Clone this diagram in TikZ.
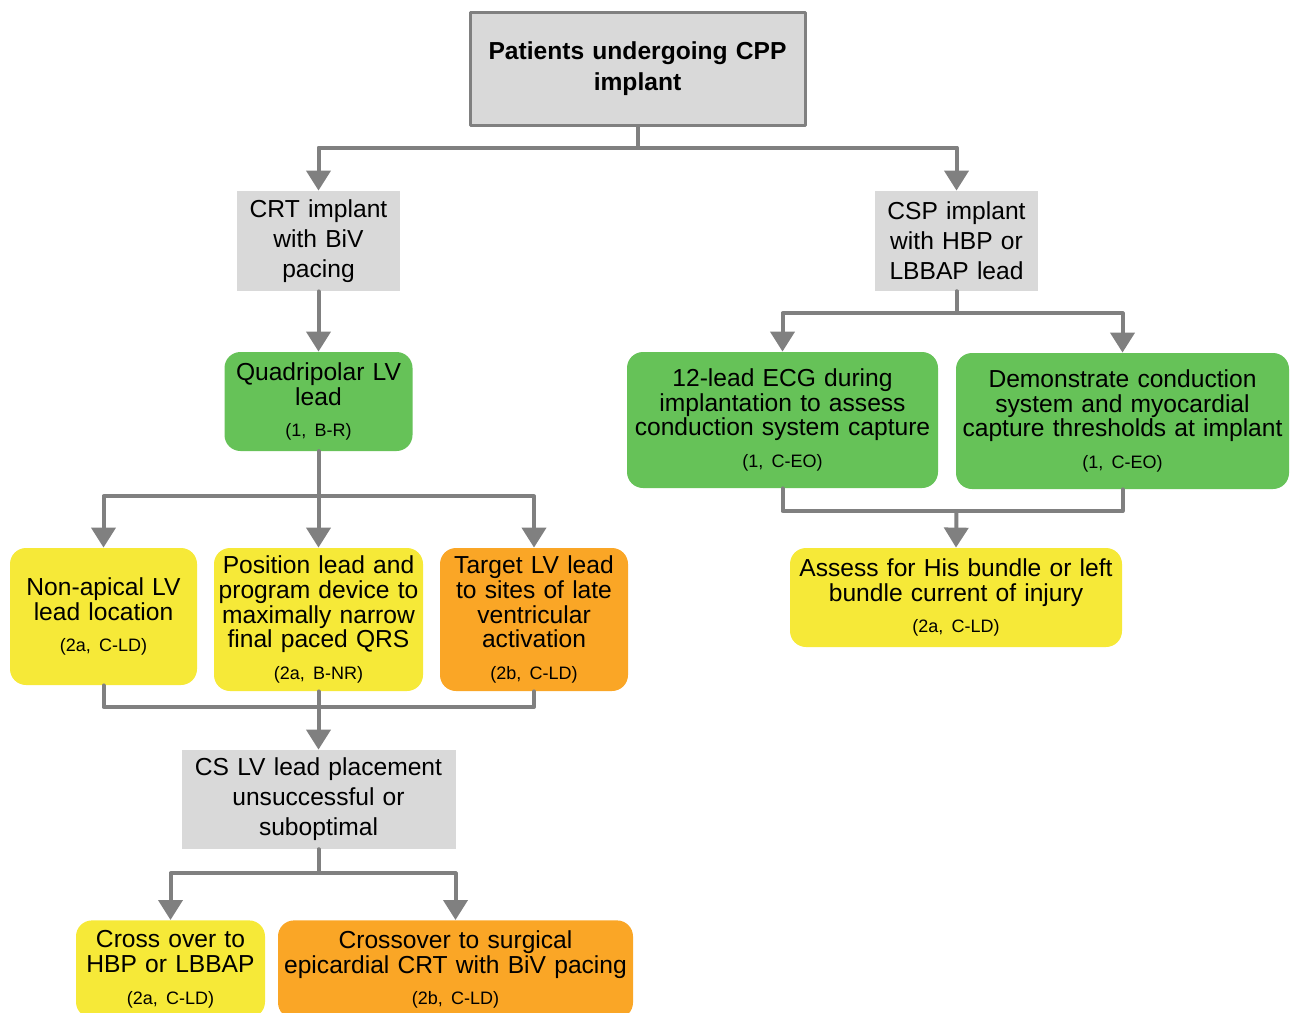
\documentclass[tikz,border=0pt]{standalone}
\usepackage{fontspec}
\setmainfont{Liberation Sans}
\usetikzlibrary{arrows.meta}
\definecolor{boxgray}{RGB}{217,217,217}
\definecolor{linegray}{RGB}{128,128,128}
\definecolor{corgreen}{RGB}{102,194,88}
\definecolor{coryellow}{RGB}{246,233,56}
\definecolor{cororange}{RGB}{250,166,38}
\newcommand{\recclass}[1]{\\[3.5pt]{\fontsize{9}{10}\selectfont #1}}

\begin{document}
\begin{tikzpicture}[line cap=round,line join=round,>={Triangle[width=12pt,length=10pt]},x=0.5pt,y=-0.5pt]
\useasboundingbox (0,0) rectangle (1293,1012);
\clip (0,0) rectangle (1293,1012);
\tikzstyle{box}=[inner sep=0pt, align=center, font=\fontsize{12.3}{12.4}\selectfont]
\tikzstyle{graybox}=[box, fill=boxgray, font=\fontsize{12.3}{15}\selectfont]
\tikzstyle{greenbox}=[box, fill=corgreen, rounded corners=8pt]
\tikzstyle{yellowbox}=[box, fill=coryellow, rounded corners=8pt]
\tikzstyle{orangebox}=[box, fill=cororange, rounded corners=8pt]
\tikzstyle{conn}=[line width=2pt, color=linegray]

% top
\node[graybox, draw=linegray, line width=1.5pt, minimum width=167.5pt, minimum height=56.5pt, text width=160pt, font=\fontsize{12.3}{15.5}\selectfont\bfseries] (cpp) at (637.5,68.5) {Patients undergoing CPP\\implant};

% CRT side
\node[graybox, minimum width=81.5pt, minimum height=50pt, text width=81.5pt] (crt) at (318.5,241) {CRT implant\\with BiV\\pacing};
\node[greenbox, minimum width=94pt, minimum height=49.5pt, text width=94pt] (quad) at (318.5,401.5) {Quadripolar LV\\lead\recclass{(1, B-R)}};
\node[yellowbox, minimum width=93.5pt, minimum height=68.5pt, text width=93.5pt] (nonap) at (103.5,616.5) {Non-apical LV\\lead location\recclass{(2a, C-LD)}};
\node[yellowbox, minimum width=104.5pt, minimum height=71.5pt, text width=104.5pt] (posn) at (318.5,619.5) {Position lead and\\program device to\\maximally narrow\\final paced QRS\recclass{(2a, B-NR)}};
\node[orangebox, minimum width=94pt, minimum height=71.5pt, text width=94pt] (targ) at (534,619.5) {Target LV lead\\to sites of late\\ventricular\\activation\recclass{(2b, C-LD)}};
\node[graybox, minimum width=137pt, minimum height=49.5pt, text width=137pt] (cs) at (318.5,799.5) {CS LV lead placement\\unsuccessful or\\suboptimal};
% bottom boxes run past the page edge
\node[yellowbox, anchor=north, inner ysep=5pt, minimum width=94.5pt, text width=94.5pt] (cross) at (170.5,920) {Cross over to\\HBP or LBBAP\recclass{(2a, C-LD)}\par\vspace{24pt}};
\node[orangebox, anchor=north, inner ysep=5pt, minimum width=177.5pt, text width=177.5pt] (surg) at (455.5,920) {Crossover to surgical\\epicardial CRT with BiV pacing\recclass{(2b, C-LD)}\par\vspace{24pt}};

% CSP side
\node[graybox, minimum width=81.5pt, minimum height=50pt, text width=81.5pt] (csp) at (956.5,241) {CSP implant\\with HBP or\\LBBAP lead};
\node[greenbox, minimum width=155.5pt, minimum height=68pt, text width=155.5pt] (ecg) at (782.5,420) {12-lead ECG during\\implantation to assess\\conduction system capture\recclass{(1, C-EO)}};
\node[greenbox, minimum width=166.5pt, minimum height=68pt, text width=166.5pt] (demo) at (1122.5,421) {Demonstrate conduction\\system and myocardial\\capture thresholds at implant\recclass{(1, C-EO)}};
\node[yellowbox, minimum width=166pt, minimum height=49.5pt, text width=166pt] (assess) at (956,597.5) {Assess for His bundle or left\\bundle current of injury\recclass{(2a, C-LD)}};

\coordinate (mergeL) at (318.5,707);
\coordinate (mergeR) at (956.5,511);

\draw[conn,->] (cpp.south) -- ++(0,21) -| (crt.north);
\draw[conn,->] (cpp.south) -- ++(0,21) -| (csp.north);
\draw[conn,->] (crt.south) -- (quad.north);
\draw[conn,->] (quad.south) -- ++(0,45) -| (nonap.north);
\draw[conn,->] (quad.south) -- (posn.north);
\draw[conn,->] (quad.south) -- ++(0,45) -| (targ.north);
\draw[conn] (nonap.south) |- (mergeL);
\draw[conn] (targ.south) |- (mergeL);
\draw[conn,->] (posn.south) -- (cs.north);
\draw[conn,->] (cs.south) -- ++(0,24) -| (cross.north);
\draw[conn,->] (cs.south) -- ++(0,24) -| (surg.north);
\draw[conn,->] (csp.south) -- ++(0,22) -| (ecg.north);
\draw[conn,->] (csp.south) -- ++(0,22) -| (demo.north);
\draw[conn] (ecg.south) |- (mergeR);
\draw[conn] (demo.south) |- (mergeR);
\draw[conn,->] (mergeR) -- (assess.north);
\end{tikzpicture}
\end{document}
